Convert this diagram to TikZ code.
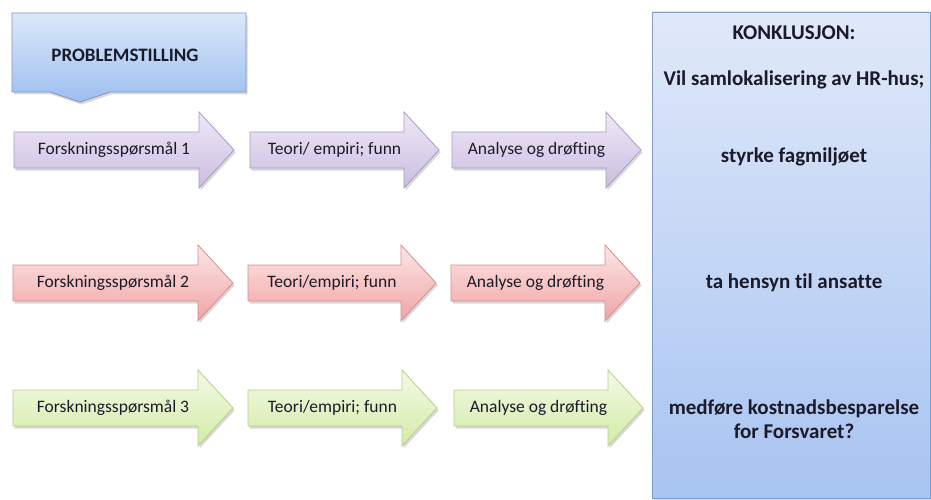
\documentclass[tikz,border=0pt]{standalone}
\usepackage{fontspec}
\setmainfont{Carlito}[Ligatures=NoCommon]
\usetikzlibrary{shadows}
\definecolor{probtop}{HTML}{DCE8FA}
\definecolor{probbot}{HTML}{9DBEF0}
\definecolor{probdraw}{HTML}{7D99C6}
\definecolor{purtop}{HTML}{EFE8F7}
\definecolor{purbot}{HTML}{CBBDE0}
\definecolor{purdraw}{HTML}{A99BC4}
\definecolor{redtop}{HTML}{FDE6E6}
\definecolor{redbot}{HTML}{F0A4A4}
\definecolor{reddraw}{HTML}{D58F8F}
\definecolor{grntop}{HTML}{F4FAE6}
\definecolor{grnbot}{HTML}{D2EBA6}
\definecolor{grndraw}{HTML}{B5CF8A}
\definecolor{konktop}{HTML}{E0E9F9}
\definecolor{konkbot}{HTML}{A8C4F1}
\definecolor{konkdraw}{HTML}{7F9CCB}
\definecolor{txt}{HTML}{1A1A2A}
\tikzset{
  shad/.style={drop shadow={shadow xshift=1.5pt, shadow yshift=-2.5pt, opacity=0.25, fill=black!60}},
  purarrow/.style={shad, draw=purdraw, line width=0.8pt, top color=purtop, bottom color=purbot},
  redarrow/.style={shad, draw=reddraw, line width=0.8pt, top color=redtop, bottom color=redbot},
  grnarrow/.style={shad, draw=grndraw, line width=0.8pt, top color=grntop, bottom color=grnbot},
  arrowtext/.style={font=\fontsize{17.5}{20}\selectfont, text=txt, inner sep=0pt},
  konktext/.style={font=\fontsize{21}{24}\selectfont\bfseries, text=txt, align=center, inner sep=0pt},
}
\newcommand\flowarrow[6]{%
  \path[#5] (#2,#4-18) -- ({#3-35},#4-18) -- ({#3-35},#4-38) -- (#3,#4)
    -- ({#3-35},#4+38) -- ({#3-35},#4+18) -- (#2,#4+18) -- cycle;
  \node[arrowtext] (#1) at ({(#2+#3)/2-10},#4) {#6};%
}
\begin{document}
\begin{tikzpicture}[x=1pt,y=-1pt]
\useasboundingbox (0,0) rectangle (931,500);
\fill[white] (0,0) rectangle (931,500);

% Problemstilling
\path[shad, draw=probdraw, line width=0.8pt, top color=probtop, bottom color=probbot]
  (12,13) -- (246,13) -- (246,92) -- (110,92) -- (80,102) -- (50,92) -- (12,92) -- cycle;
\node[font=\fontsize{19}{22}\selectfont\bfseries, text=txt, inner sep=0pt] (prob) at (125,55) {PROBLEMSTILLING};

% Conclusion box
\path[shad, draw=konkdraw, line width=0.8pt, top color=konktop, bottom color=konkbot]
  (652,12) rectangle (930,498);
\node[konktext] (konk) at (794,33) {KONKLUSJON:};
\node[konktext] (vil) at (794,80) {Vil samlokalisering av HR-hus;};
\node[konktext] (k1) at (794,157) {styrke fagmiljøet};
\node[konktext] (k2) at (794,283) {ta hensyn til ansatte};
\node[konktext] (k3) at (794,419) {medføre kostnadsbesparelse\\for Forsvaret?};

% Row 1
\flowarrow{f1}{14}{234}{150}{purarrow}{Forskningsspørsmål 1}
\flowarrow{t1}{250}{439}{150}{purarrow}{Teori/ empiri; funn}
\flowarrow{a1}{452}{641}{150}{purarrow}{Analyse og drøfting}
% Row 2
\flowarrow{f2}{13}{233}{283}{redarrow}{Forskningsspørsmål 2}
\flowarrow{t2}{248}{436}{283}{redarrow}{Teori/empiri; funn}
\flowarrow{a2}{451}{640}{283}{redarrow}{Analyse og drøfting}
% Row 3
\flowarrow{f3}{13}{233}{408}{grnarrow}{Forskningsspørsmål 3}
\flowarrow{t3}{248}{437}{408}{grnarrow}{Teori/empiri; funn}
\flowarrow{a3}{454}{643}{408}{grnarrow}{Analyse og drøfting}
\end{tikzpicture}
\end{document}
